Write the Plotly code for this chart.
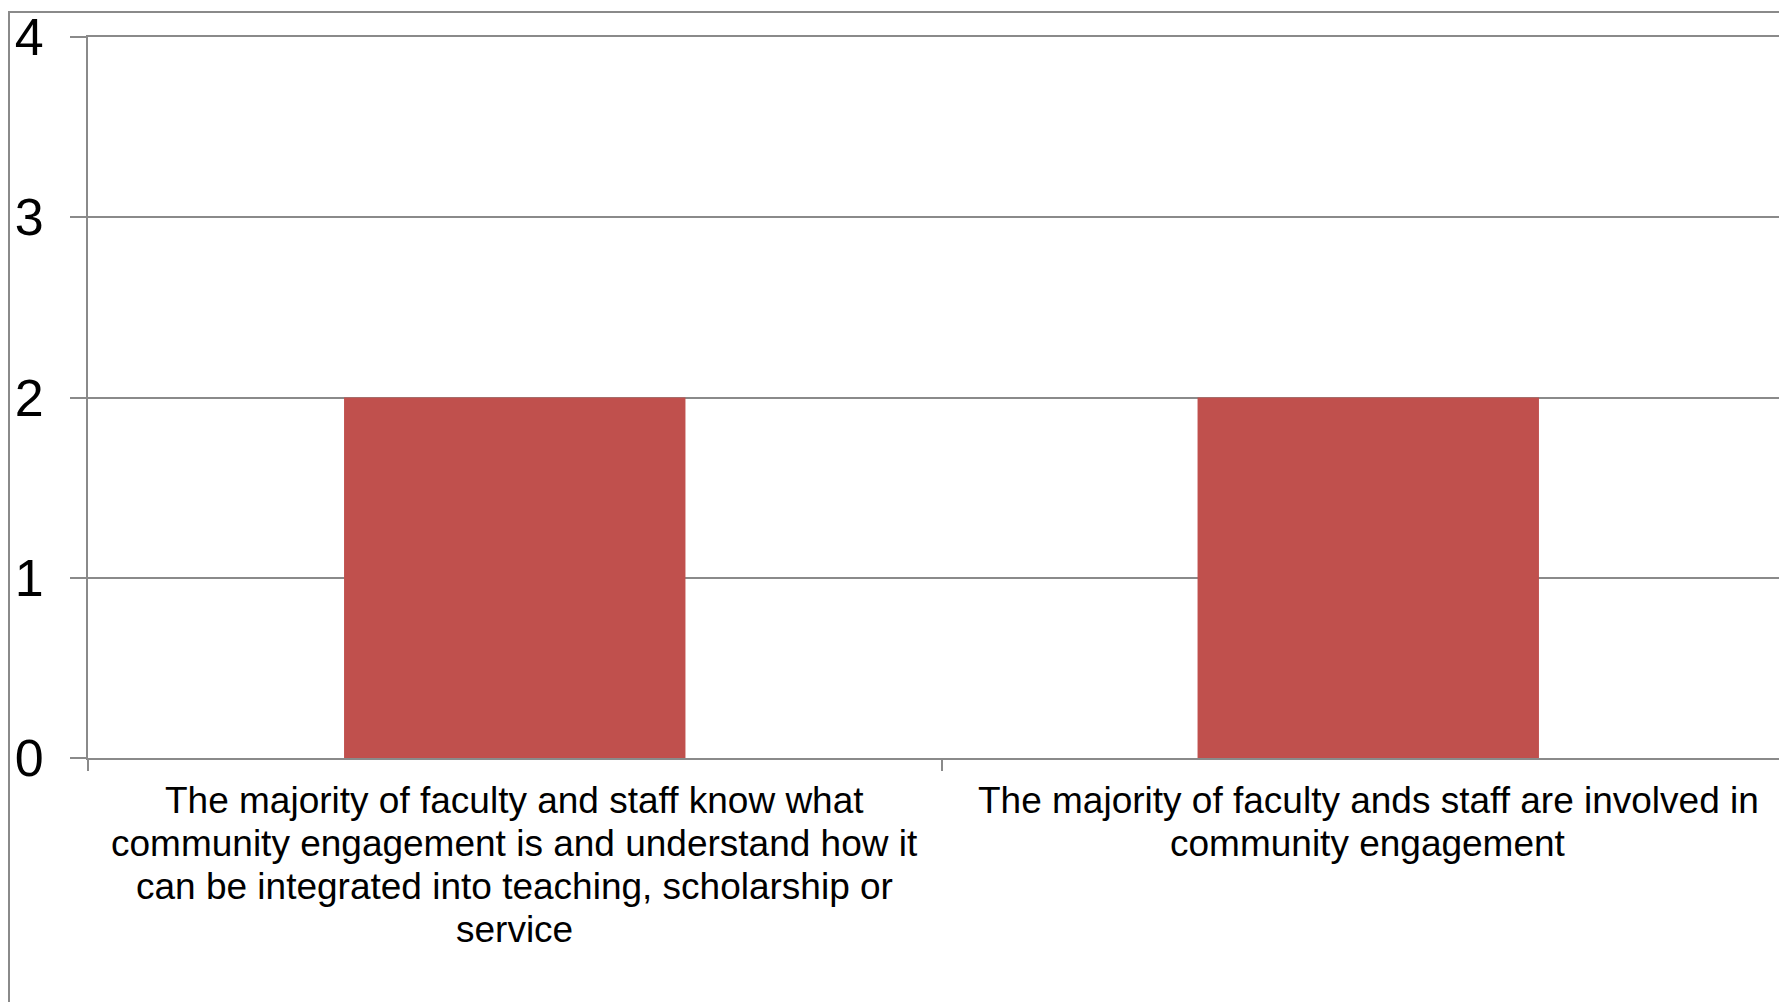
import plotly.graph_objects as go

# Chart data
label_lines = [
    ["The majority of faculty and staff know what",
     "community engagement is and understand how it",
     "can be integrated into teaching, scholarship or",
     "service"],
    ["The majority of faculty ands staff are involved in",
     "community engagement"],
]
categories = [" ".join(lines) for lines in label_lines]
values = [2, 2]

# Page / plot geometry (pixels); the page body adds an 8px offset
W, H = 1787, 1002
ML, MR, MT = 80, 0, 26
plot_h = 724
MB = H - MT - plot_h
plot_w = W - ML - MR

line_col = "#8a8a8a"
bar_col = "#C0504D"
label_size = 37
line_pitch = 43

fig = go.Figure()
fig.add_trace(go.Bar(
    x=categories,
    y=values,
    marker=dict(color=bar_col, line=dict(width=0)),
))

# category labels, one annotation per line for tighter line spacing
for cat, lines in zip(categories, label_lines):
    for i, txt in enumerate(lines):
        fig.add_annotation(
            x=cat, xref="x", y=0, yref="paper",
            text=txt, showarrow=False,
            xanchor="center", yanchor="middle",
            yshift=-(42 + i * line_pitch),
            font=dict(size=label_size, color="black"),
        )

# outer frame (left and top edges of the chart box)
fx = (1 - ML) / plot_w
fy_top = (plot_h + MT - 1) / plot_h
fy_bot = -MB / plot_h
fig.add_shape(
    type="path", xref="paper", yref="paper",
    path=f"M {fx} {fy_bot} L {fx} {fy_top} L 1.01 {fy_top}",
    line=dict(color=line_col, width=2),
)

fig.update_layout(
    width=W, height=H,
    margin=dict(l=ML, r=MR, t=MT, b=MB, pad=0),
    plot_bgcolor="white", paper_bgcolor="white",
    font=dict(family="Liberation Sans, Arial, sans-serif", color="black"),
    bargap=0.6,
    showlegend=False,
)
fig.update_xaxes(
    showline=True, mirror=True, linecolor=line_col, linewidth=2,
    ticks="outside", tickson="boundaries", ticklen=11, tickcolor=line_col, tickwidth=2,
    showticklabels=False, showgrid=False,
)
fig.update_yaxes(
    range=[0, 4], dtick=1,
    showline=True, linecolor=line_col, linewidth=2,
    gridcolor=line_col, gridwidth=2, zeroline=False,
    ticks="outside", ticklen=16, tickcolor=line_col, tickwidth=2,
    tickfont=dict(size=52), ticklabelstandoff=16, ticklabeloverflow="allow",
)

fig.write_html("out.html")
